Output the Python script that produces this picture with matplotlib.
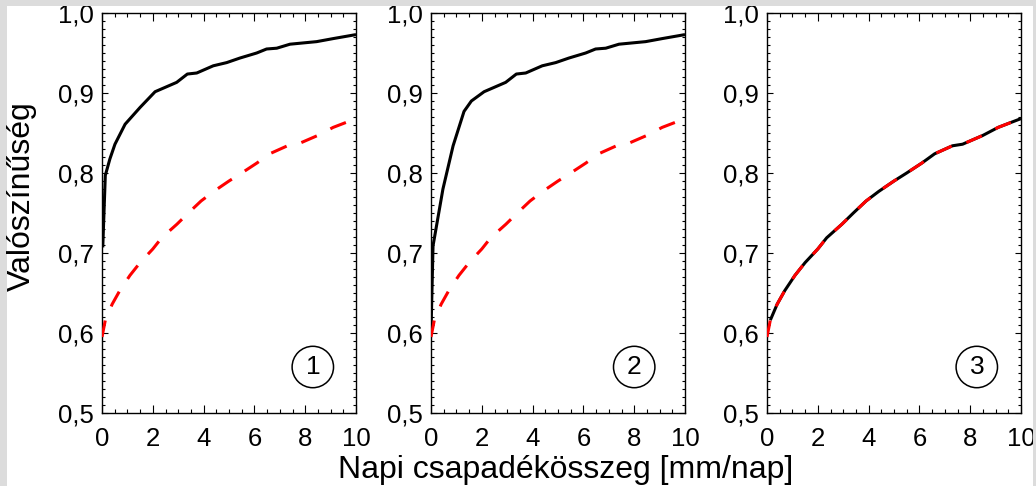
import matplotlib.pyplot as plt
from matplotlib.ticker import MultipleLocator
from matplotlib.patches import Rectangle

plt.rcParams['font.family'] = ['Liberation Sans', 'DejaVu Sans']

# gorbek leolvasva az abrarol
red_x = [0.0, 0.13, 0.4, 0.7, 1.1, 1.5, 2.0, 2.35, 2.95, 3.4, 3.9, 4.4, 5.0,
         5.5, 6.1, 6.6, 7.3, 7.7, 8.5, 9.1, 10.0]
red_y = [0.595, 0.616, 0.636, 0.653, 0.672, 0.688, 0.705, 0.719, 0.736, 0.750,
         0.765, 0.777, 0.790, 0.800, 0.8125, 0.824, 0.834, 0.836, 0.847, 0.857,
         0.868]

black1_x = [0.03, 0.13, 0.31, 0.51, 0.91, 1.5, 2.09, 2.94, 3.36, 3.73, 4.38,
            4.91, 5.43, 6.09, 6.48, 6.88, 7.4, 8.45, 9.1, 10.0]
black1_y = [0.707, 0.797, 0.8175, 0.836, 0.861, 0.882, 0.9016, 0.9133, 0.9237,
            0.925, 0.934, 0.938, 0.9437, 0.950, 0.955, 0.956, 0.961, 0.9642,
            0.968, 0.973]

black2_x = [0.0, 0.08, 0.47, 0.87, 1.30, 1.59, 2.09, 2.94, 3.36, 3.73, 4.38,
            4.91, 5.43, 6.09, 6.48, 6.88, 7.4, 8.45, 9.1, 10.0]
black2_y = [0.601, 0.709, 0.78, 0.834, 0.877, 0.890, 0.9016, 0.9133, 0.9237,
            0.925, 0.934, 0.938, 0.9437, 0.950, 0.955, 0.956, 0.961, 0.9642,
            0.968, 0.973]

# 3. panel: a fekete gorbe egybeesik a pirossal
black3_x = red_x[1:]
black3_y = red_y[1:]

blacks = [(black1_x, black1_y), (black2_x, black2_y), (black3_x, black3_y)]
panel_labels = ['1', '2', '3']
label_pos = [0.83, 0.80, 0.826]

xticks = [0, 2, 4, 6, 8, 10]
yticks = [0.5, 0.6, 0.7, 0.8, 0.9, 1.0]
ytick_labels = ['0,5', '0,6', '0,7', '0,8', '0,9', '1,0']

fig = plt.figure(figsize=(10.36, 4.86), dpi=100)
fig.patch.set_facecolor('white')

# szurke keret a kep szelen
fig.patches.append(Rectangle((0, 1 - 6 / 486), 1, 6 / 486, transform=fig.transFigure,
                             facecolor='#dcdcdc', edgecolor='none', zorder=0))
fig.patches.append(Rectangle((0, 0), 7 / 1036, 1, transform=fig.transFigure,
                             facecolor='#dcdcdc', edgecolor='none', zorder=0))
fig.patches.append(Rectangle((1 - 3 / 1036, 0), 3 / 1036, 1, transform=fig.transFigure,
                             facecolor='#dcdcdc', edgecolor='none', zorder=0))

lefts = [102 / 1036, 431 / 1036, 767 / 1036]
for i, left in enumerate(lefts):
    ax = fig.add_axes([left, 73 / 486, 254 / 1036, 400 / 486])
    bx, by = blacks[i]
    ax.plot(bx, by, color='black', lw=2.2, zorder=2, solid_capstyle='butt')
    ax.plot(red_x, red_y, color='red', lw=2.2, zorder=3,
            dashes=(5.5, 5.0), dash_capstyle='butt')
    ax.set_xlim(0, 10)
    ax.set_ylim(0.5, 1.0)
    ax.set_xticks(xticks)
    ax.set_xticklabels([str(t) for t in xticks])
    ax.set_yticks(yticks)
    ax.set_yticklabels(ytick_labels)
    ax.xaxis.set_minor_locator(MultipleLocator(0.5))
    ax.yaxis.set_minor_locator(MultipleLocator(0.01))
    ax.tick_params(axis='both', which='both', direction='in', top=True, right=True,
                   labelsize=18.5, width=0.8)
    ax.tick_params(axis='x', which='major', length=5.8, pad=10)
    ax.tick_params(axis='x', which='minor', length=2.9)
    ax.tick_params(axis='y', which='major', length=4.0, pad=6)
    ax.tick_params(axis='y', which='minor', length=2.5)
    for sp in ax.spines.values():
        sp.set_linewidth(1.0)
    ax.text(label_pos[i], 0.115, panel_labels[i], transform=ax.transAxes,
            fontsize=19, ha='center', va='center',
            bbox=dict(boxstyle='circle,pad=0.33', facecolor='white',
                      edgecolor='black', linewidth=1.1))

fig.text(22 / 1036, 1 - 196 / 486, 'Valószínűség', rotation=90, fontsize=23,
         ha='center', va='center')
fig.text(566 / 1036, 8 / 486, 'Napi csapadékösszeg [mm/nap]', fontsize=23,
         ha='center', va='baseline')

fig.savefig('out.png', dpi=100)
